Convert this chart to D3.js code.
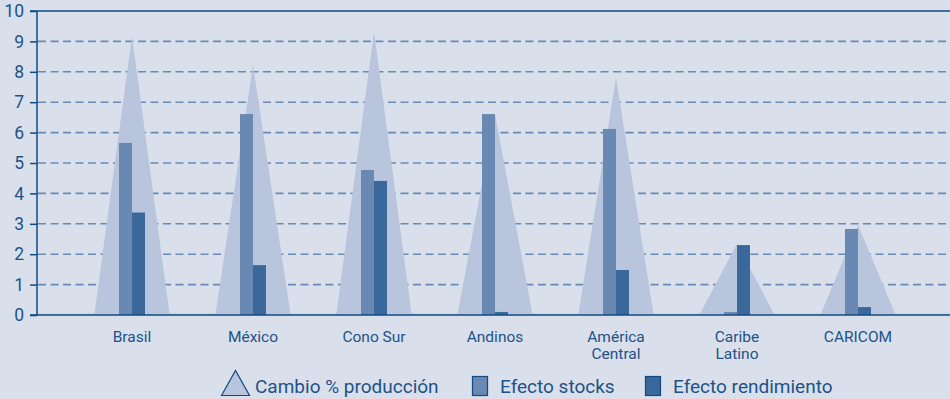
<!DOCTYPE html>
<html>
<head>
<meta charset="utf-8">
<script src="https://cdn.jsdelivr.net/npm/d3@7"></script>
<style>
html,body{margin:0;padding:0;background:#d9e0ec;}
svg{display:block;}
text{font-family:Roboto,"Open Sans",sans-serif;}
</style>
</head>
<body>
<svg id="chart" width="950" height="399"></svg>
<script>
const categories = ["Brasil", "México", "Cono Sur", "Andinos", "América\nCentral", "Caribe\nLatino", "CARICOM"];
const produccion = [9.18, 8.22, 9.32, 6.6, 7.82, 2.34, 2.96];
const stocks = [5.66, 6.61, 4.77, 6.61, 6.12, 0.1, 2.83];
const rendimiento = [3.37, 1.64, 4.41, 0.1, 1.48, 2.30, 0.26];
const yTicks = [0,1,2,3,4,5,6,7,8,9,10];
const legendLabels = ["Cambio % producción", "Efecto stocks", "Efecto rendimiento"];

const C = {bg:"#d9e0ec", tri:"#b8c5dc", stocks:"#6a89b2", rend:"#3a689a", axis:"#0f4a82", grid:"#6a8ab6", text:"#1f5288"};

const svg = d3.select("#chart");
svg.append("rect").attr("width",950).attr("height",399).attr("fill",C.bg);

const pLeft = 37, pRight = 950, pTop = 11, pBottom = 315;
const y = d3.scaleLinear().domain([0,10]).range([pBottom, pTop]);
const x = d3.scaleBand().domain(categories).range([71.5, 918.5]).padding(0);
const barW = 13, triHalf = 37.7;

// gridlines
svg.append("g").selectAll("line").data(yTicks.filter(d=>d>0 && d<10)).join("line")
  .attr("x1", pLeft+1).attr("x2", pRight).attr("y1", d=>y(d)).attr("y2", d=>y(d))
  .attr("stroke", C.grid).attr("stroke-width", 1.6).attr("stroke-dasharray", "8,4.5");

// faint baseline of triangle colour
svg.append("line").attr("x1",pLeft).attr("x2",pRight).attr("y1",pBottom-1).attr("y2",pBottom-1)
  .attr("stroke",C.tri).attr("stroke-width",1.2);

// triangles
svg.append("g").selectAll("path").data(categories).join("path")
  .attr("d", (c,i) => {
    const cx = x(c) + x.bandwidth()/2;
    return `M${cx-triHalf},${y(0)}L${cx},${y(produccion[i])}L${cx+triHalf},${y(0)}Z`;
  })
  .attr("fill", C.tri);

// bars
svg.append("g").selectAll("rect").data(categories).join("rect")
  .attr("x", c => x(c) + x.bandwidth()/2 - barW)
  .attr("width", barW)
  .attr("y", (c,i) => y(stocks[i]))
  .attr("height", (c,i) => y(0) - y(stocks[i]))
  .attr("fill", C.stocks);
svg.append("g").selectAll("rect").data(categories).join("rect")
  .attr("x", c => x(c) + x.bandwidth()/2)
  .attr("width", barW)
  .attr("y", (c,i) => y(rendimiento[i]))
  .attr("height", (c,i) => y(0) - y(rendimiento[i]))
  .attr("fill", C.rend);

// axes
const yAxis = d3.axisLeft(y).tickValues(yTicks).tickSize(7).tickPadding(6);
const gy = svg.append("g").attr("transform",`translate(${pLeft},0)`).call(yAxis);
gy.select(".domain").remove();
gy.selectAll(".tick line").attr("stroke",C.axis).attr("stroke-width",1.5);
gy.selectAll(".tick text").attr("fill",C.text).attr("font-size",17.5)
  .attr("font-family","Roboto,'Open Sans',sans-serif");

svg.append("line").attr("x1",pLeft).attr("x2",pLeft).attr("y1",pTop).attr("y2",pBottom)
  .attr("stroke",C.axis).attr("stroke-width",1.5);
svg.append("line").attr("x1",pLeft-7).attr("x2",pRight).attr("y1",pTop).attr("y2",pTop)
  .attr("stroke",C.axis).attr("stroke-width",1.5);
svg.append("line").attr("x1",pLeft-7).attr("x2",pRight).attr("y1",pBottom).attr("y2",pBottom)
  .attr("stroke",C.axis).attr("stroke-width",1.5);

// category labels
const cl = svg.append("g").selectAll("text").data(categories).join("text")
  .attr("x", c => x(c) + x.bandwidth()/2)
  .attr("y", 342)
  .attr("text-anchor","middle").attr("fill",C.text).attr("font-size",15.5);
cl.each(function(c){
  const t = d3.select(this);
  c.split("\n").forEach((s,k)=>{
    t.append("tspan").attr("x", x(c)+x.bandwidth()/2).attr("dy", k===0?0:17).text(s);
  });
});

// legend
const lg = svg.append("g").attr("font-size",19).attr("fill",C.text);
lg.append("path").attr("d","M221.5,395.5L235.5,370.5L249.5,395.5Z").attr("fill",C.tri).attr("stroke",C.axis).attr("stroke-width",1.2);
lg.append("text").attr("x",255).attr("y",393).attr("fill",C.text).text(legendLabels[0]);
lg.append("rect").attr("x",472.5).attr("y",376.5).attr("width",15).attr("height",19).attr("fill",C.stocks).attr("stroke",C.axis).attr("stroke-width",1.2);
lg.append("text").attr("x",500).attr("y",393).attr("fill",C.text).text(legendLabels[1]);
lg.append("rect").attr("x",645.5).attr("y",376.5).attr("width",15).attr("height",19).attr("fill",C.rend).attr("stroke",C.axis).attr("stroke-width",1.2);
lg.append("text").attr("x",673).attr("y",393).attr("fill",C.text).text(legendLabels[2]);
</script>
</body>
</html>
